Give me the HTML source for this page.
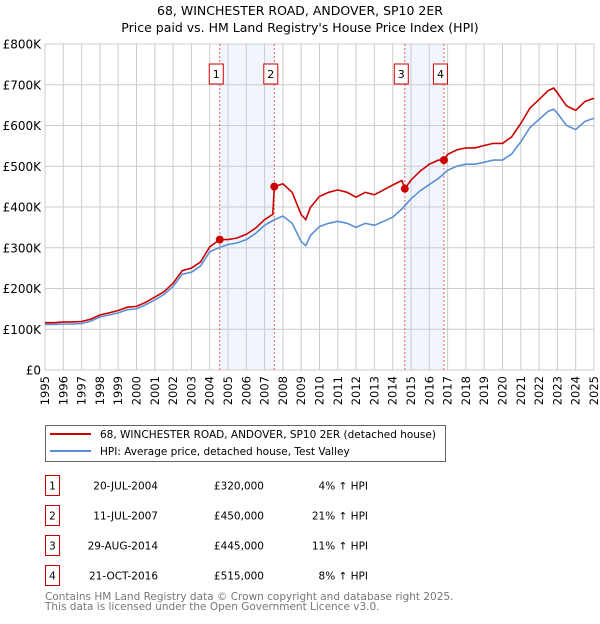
<!DOCTYPE html>
<html><head><meta charset="utf-8"><style>
body{margin:0;background:#fff;width:600px;height:620px;overflow:hidden;font-family:"DejaVu Sans","Liberation Sans",sans-serif}
svg text{font-family:"DejaVu Sans","Liberation Sans",sans-serif}
</style></head><body>
<svg id="chart" width="600" height="620" xmlns="http://www.w3.org/2000/svg">
<text x="300" y="15" text-anchor="middle" font-size="12.5">68, WINCHESTER ROAD, ANDOVER, SP10 2ER</text>
<text x="300" y="32" text-anchor="middle" font-size="12.5">Price paid vs. HM Land Registry's House Price Index (HPI)</text>
<g id="plot"></g>
<g id="legend">
<rect x="45.5" y="425.5" width="400" height="36" fill="#fff" stroke="#666"/>
<line x1="50" y1="434" x2="91" y2="434" stroke="#cc0000" stroke-width="2"/>
<text x="100" y="438" font-size="10.5">68, WINCHESTER ROAD, ANDOVER, SP10 2ER (detached house)</text>
<line x1="50" y1="451" x2="91" y2="451" stroke="#5b8fd4" stroke-width="2"/>
<text x="100" y="455" font-size="10.5">HPI: Average price, detached house, Test Valley</text>
</g>
<g id="table"></g>
<text x="45" y="600" font-size="10.5" fill="#777">Contains HM Land Registry data © Crown copyright and database right 2025.</text>
<text x="45" y="610" font-size="10.5" fill="#777">This data is licensed under the Open Government Licence v3.0.</text>
</svg>
<script>
const hpiT=[1995,1995.5,1996,1996.5,1997,1997.5,1998,1998.5,1999,1999.5,2000,2000.5,2001,2001.5,2002,2002.5,2003,2003.5,2004,2004.5,2005,2005.5,2006,2006.5,2007,2007.5,2008,2008.5,2009,2009.25,2009.5,2010,2010.5,2011,2011.5,2012,2012.5,2013,2013.5,2014,2014.5,2015,2015.5,2016,2016.5,2017,2017.5,2018,2018.5,2019,2019.5,2020,2020.5,2021,2021.5,2022,2022.5,2022.8,2023,2023.5,2024,2024.5,2025];
const hpiV=[112,112,113,113,114,120,130,135,140,148,150,160,172,185,205,235,240,255,290,300,308,312,320,335,355,368,378,360,315,305,330,352,360,365,360,350,360,355,365,375,395,420,440,455,470,490,500,505,505,510,515,515,530,560,595,615,635,640,630,600,590,610,618];
const redT=[1995,1995.5,1996,1996.5,1997,1997.5,1998,1998.5,1999,1999.5,2000,2000.5,2001,2001.5,2002,2002.5,2003,2003.5,2004,2004.55,2005,2005.5,2006,2006.5,2007,2007.45,2007.53,2008,2008.5,2009,2009.25,2009.5,2010,2010.5,2011,2011.5,2012,2012.5,2013,2013.5,2014,2014.5,2014.66,2015,2015.5,2016,2016.5,2016.8,2017,2017.5,2018,2018.5,2019,2019.5,2020,2020.5,2021,2021.5,2022,2022.5,2022.8,2023,2023.5,2024,2024.5,2025];
const redV=[116,116,118,118,119,125,135,140,146,154,156,166,179,192,213,244,250,265,302,320,320,324,333,348,369,382,450,457,436,381,369,399,426,436,442,436,424,436,430,442,454,465,445,466,488,505,515,515,529,540,545,545,551,556,556,572,605,643,664,686,692,680,648,637,659,667];
const saleLabels=["1","2","3","4"];
const saleT=[2004.55,2007.53,2014.66,2016.8];
const saleV=[320,450,445,515];
const saleDates=["20-JUL-2004","11-JUL-2007","29-AUG-2014","21-OCT-2016"];
const salePrices=["£320,000","£450,000","£445,000","£515,000"];
const salePct=["4% ↑ HPI","21% ↑ HPI","11% ↑ HPI","8% ↑ HPI"];
const yTicks=[0,100,200,300,400,500,600,700,800];
const yTickLabels=["£0","£100K","£200K","£300K","£400K","£500K","£600K","£700K","£800K"];
const xTicks=[1995,1996,1997,1998,1999,2000,2001,2002,2003,2004,2005,2006,2007,2008,2009,2010,2011,2012,2013,2014,2015,2016,2017,2018,2019,2020,2021,2022,2023,2024,2025];

const NS="http://www.w3.org/2000/svg";
const X0=45,X1=594,Y0=370,Y1=44;
const xs=t=>X0+(t-1995)/30*(X1-X0);
const ys=v=>Y0-v/800*(Y0-Y1);
const plot=document.getElementById('plot');
function mk(tag,attrs,parent){const e=document.createElementNS(NS,tag);for(const k in attrs)e.setAttribute(k,attrs[k]);(parent||plot).appendChild(e);return e;}

for(let i=0;i<4;i+=2){
 const r=mk('rect',{x:xs(saleT[i]),y:Y1,width:xs(saleT[i+1])-xs(saleT[i]),height:Y0-Y1,fill:'#eef3fc',opacity:0.8});
 
 
}
xTicks.forEach((t,i)=>{
 const l=mk('line',{x1:xs(t),x2:xs(t),y1:Y1,y2:Y0,stroke:'#cccccc','stroke-width':1});
 
 
 const tx=mk('text',{x:xs(t),y:Y0+6,'font-size':11.5,'text-anchor':'end',transform:`rotate(-90 ${xs(t)} ${Y0+6})`,dy:'0.35em'});
 tx.textContent=t;
 
 
});
yTicks.forEach((v,i)=>{
 const l=mk('line',{x1:X0,x2:X1,y1:ys(v),y2:ys(v),stroke:'#cccccc','stroke-width':1});
 
 
 const tx=mk('text',{x:X0-4,y:ys(v)+4.5,'font-size':12,'text-anchor':'end'});
 tx.textContent=yTickLabels[i];
 
 
});
const fr=mk('rect',{x:X0,y:Y1,width:X1-X0,height:Y0-Y1,fill:'none',stroke:'#cccccc'});


saleT.forEach((t,i)=>{
 const l=mk('line',{x1:xs(t),x2:xs(t),y1:Y1,y2:Y0,stroke:'#e06060','stroke-width':1,'stroke-dasharray':'2,2'});
 
 
 const cx=xs(t)-3.5;
 const b=mk('rect',{x:cx-7,y:64,width:14,height:20,fill:'#fff',stroke:'#cc0000'});
 
 
 const tx=mk('text',{x:cx,y:78,'font-size':11,'text-anchor':'middle'});
 tx.textContent=saleLabels[i];
 
 
});
const hp=mk('path',{d:hpiT.map((t,i)=>(i?'L':'M')+xs(t).toFixed(1)+','+ys(hpiV[i]).toFixed(1)).join(''),fill:'none',stroke:'#5b8fd4','stroke-width':1.6});


const rp=mk('path',{d:redT.map((t,i)=>(i?'L':'M')+xs(t).toFixed(1)+','+ys(redV[i]).toFixed(1)).join(''),fill:'none',stroke:'#cc0000','stroke-width':1.6});


saleT.forEach((t,i)=>{
 const c=mk('circle',{cx:xs(t),cy:ys(saleV[i]),r:4,fill:'#cc0000'});
 
 
});
const tb=document.getElementById('table');
saleLabels.forEach((s,i)=>{
 const y=475+i*30;
 const b=mk('rect',{x:45.5,y:y+0.5,width:14,height:20,fill:'#fff',stroke:'#cc0000'},tb);
 
 
 const cells=[[52.5,s,'middle'],[158,saleDates[i],'end'],[264,salePrices[i],'end'],[368,salePct[i],'end']];
 cells.forEach(c=>{
  const tx=mk('text',{x:c[0],y:y+14.5,'font-size':10.5,'text-anchor':c[2]},tb);
  tx.textContent=c[1];
  
  
 });
});
</script>
</body></html>
